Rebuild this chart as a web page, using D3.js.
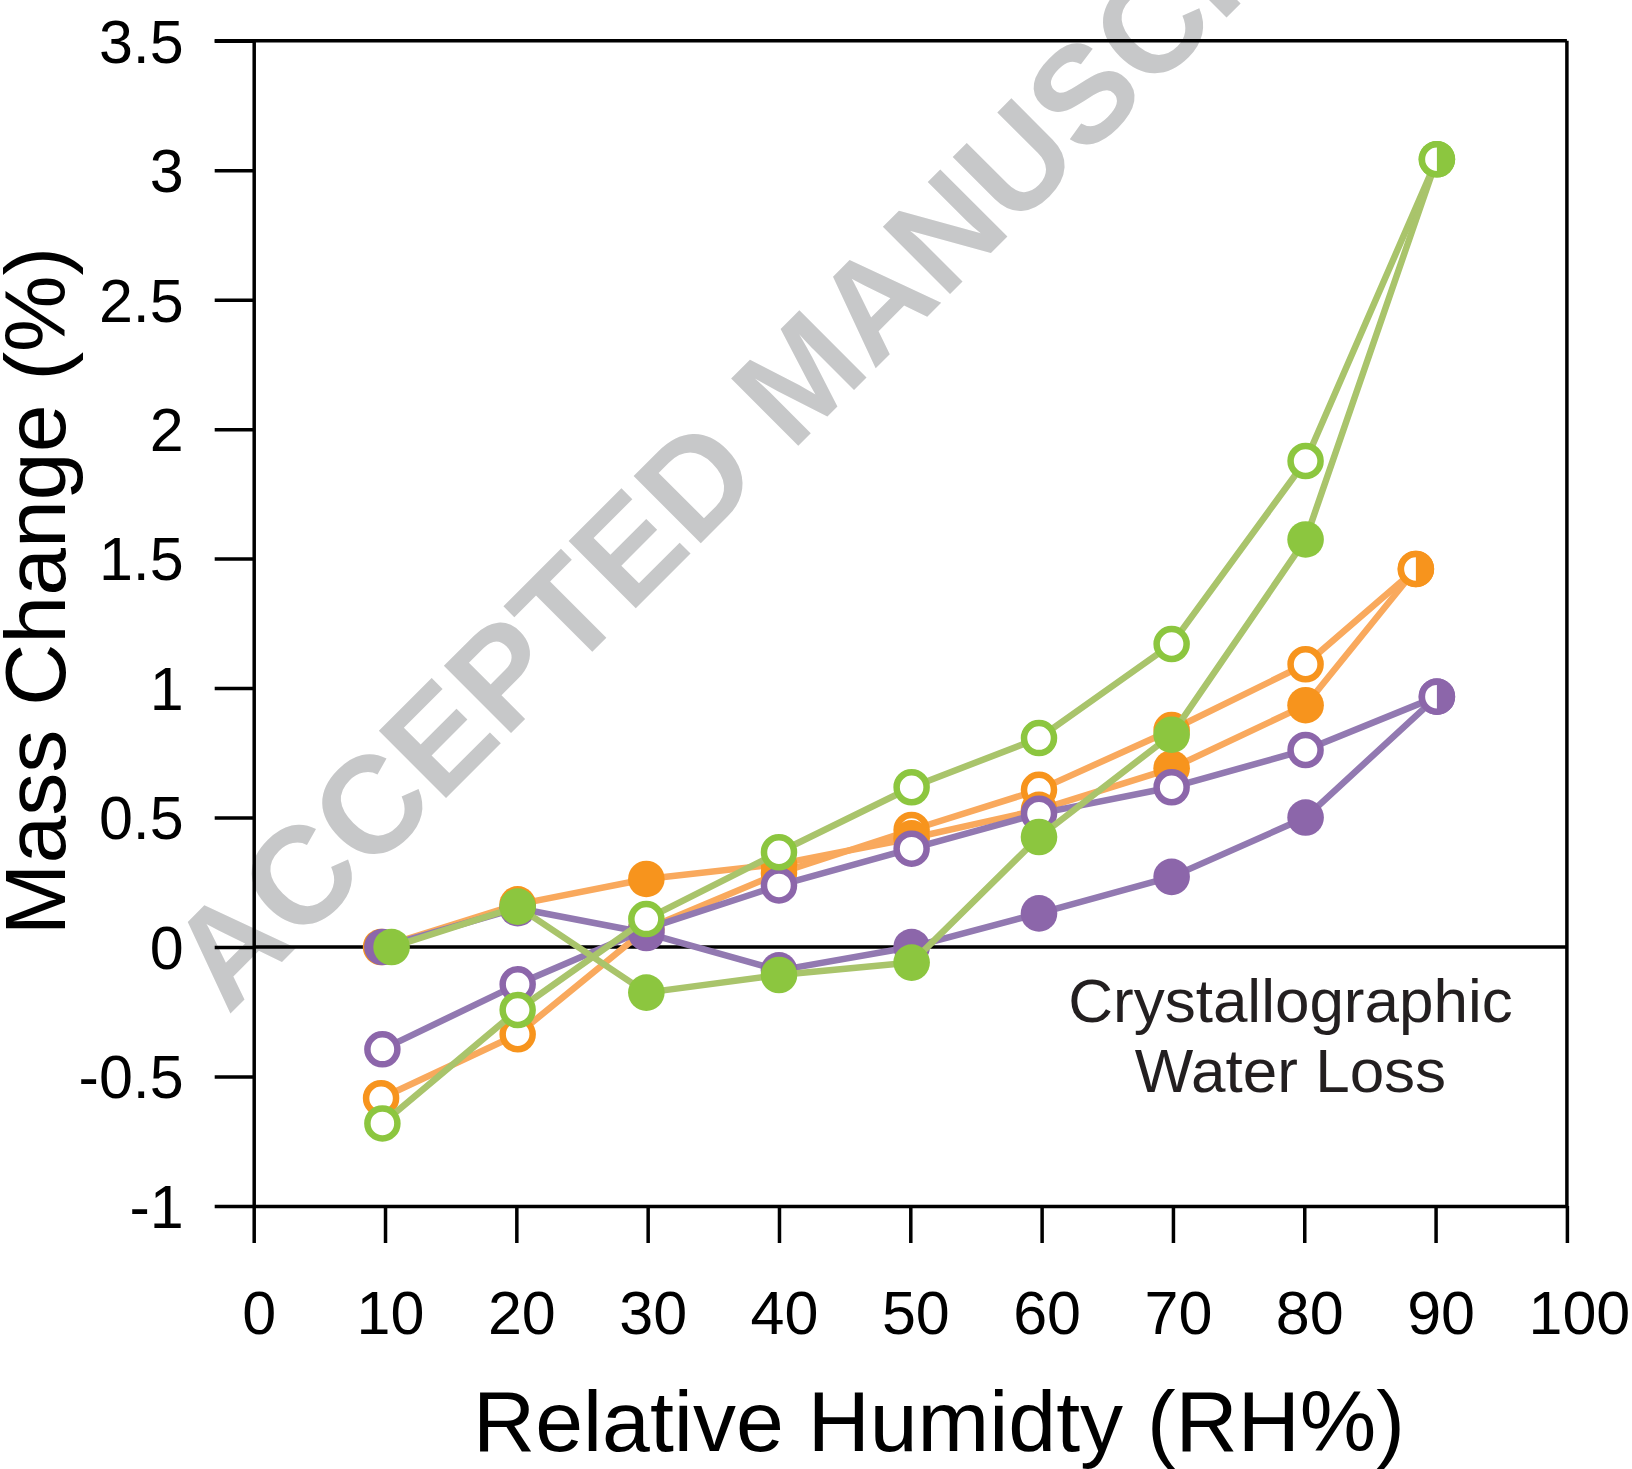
<!DOCTYPE html>
<html>
<head>
<meta charset="utf-8">
<script src="https://cdn.jsdelivr.net/npm/d3@7"></script>
<style>
  body { margin: 0; background: #fff; }
  svg { display: block; }
  text { font-family: "Liberation Sans", Arial, sans-serif; }
</style>
</head>
<body>
<svg id="chart" width="1632" height="1469"></svg>
<script>
// relative humidity steps
const rhSteps = [9.8, 20.1, 29.9, 40.0, 50.1, 59.8, 69.9, 80.1, 90.1];
const rhGreenUp = [10.5, 20.1, 29.9, 40.0, 50.1, 59.8, 69.9, 80.1, 90.1];
const rhOrange = [9.7, 20.1, 29.9, 40.0, 50.1, 59.8, 69.9, 80.1, 88.5];

// mass change (%), filled = up, open = down
const orangeUp = [0, 0.165, 0.263, 0.32, 0.42, 0.53, 0.69, 0.934, 1.46];
const orangeDown = [-0.584, -0.337, 0.07, 0.285, 0.452, 0.607, 0.838, 1.092, 1.46];
const purpleUp = [0, 0.15, 0.054, -0.09, 0, 0.13, 0.271, 0.5, 0.967];
const purpleDown = [-0.395, -0.144, 0.07, 0.238, 0.38, 0.515, 0.617, 0.761, 0.967];
const greenUp = [0, 0.156, -0.176, -0.108, -0.06, 0.425, 0.82, 1.574, 3.042];
const greenDown = [-0.681, -0.243, 0.108, 0.366, 0.617, 0.807, 1.17, 1.877, 3.042];

const xTicks = [0, 10, 20, 30, 40, 50, 60, 70, 80, 90, 100];
const yTicks = [-1, -0.5, 0, 0.5, 1, 1.5, 2, 2.5, 3, 3.5];
const yTickLabels = ["-1", "-0.5", "0", "0.5", "1", "1.5", "2", "2.5", "3", "3.5"];

const groups = [
  { marker: "#f7941d", line: "#f9a95d", x: rhOrange, xUp: rhOrange, up: orangeUp, down: orangeDown },
  { marker: "#8c66aa", line: "#9279b1", x: rhSteps, xUp: rhSteps, up: purpleUp, down: purpleDown },
  { marker: "#8cc63f", line: "#a9c46b", x: rhSteps, xUp: rhGreenUp, up: greenUp, down: greenDown }
];

const svg = d3.select("#chart");
const margin = { top: 40.7, right: 65.1, bottom: 263, left: 253.7 };
const width = 1632 - margin.left - margin.right;
const height = 1469 - margin.top - margin.bottom;

// watermark
svg.append("text")
  .attr("transform", "translate(228,1016) rotate(-45)")
  .attr("font-size", 138)
  .attr("font-weight", "bold")
  .attr("fill", "#c7c8c9")
  .text("ACCEPTED MANUSCRIPT");

const g = svg.append("g").attr("transform", `translate(${margin.left},${margin.top})`);

const x = d3.scaleLinear().domain([0, 100]).range([0, width]);
const y = d3.scaleLinear().domain([-1, 3.5]).range([height, 0]);

const xAxis = g.append("g")
  .attr("transform", `translate(0,${height})`)
  .call(d3.axisBottom(x).tickValues(xTicks).tickSize(37).tickPadding(48).tickSizeOuter(0));
const yAxis = g.append("g")
  .call(d3.axisLeft(y).tickValues(yTicks).tickFormat((d, i) => yTickLabels[i])
    .tickSize(39).tickPadding(31).tickSizeOuter(0));

[xAxis, yAxis].forEach(a => {
  a.select(".domain").attr("stroke", "#000").attr("stroke-width", 3.5);
  a.selectAll(".tick line").attr("stroke", "#000").attr("stroke-width", 3.5);
  a.selectAll(".tick text").attr("font-size", 61).attr("fill", "#000")
    .style("font-family", '"Liberation Sans", Arial, sans-serif');
});
xAxis.selectAll(".tick text").attr("dx", d => (d === 100 ? 12 : 5));
yAxis.selectAll(".tick text").attr("dy", "0.35em");

// top and right frame
g.append("line").attr("x1", -39).attr("x2", width).attr("y1", 0).attr("y2", 0)
  .attr("stroke", "#000").attr("stroke-width", 3.5);
g.append("line").attr("x1", width).attr("x2", width).attr("y1", 0).attr("y2", height)
  .attr("stroke", "#000").attr("stroke-width", 3.5);

// zero line
g.append("line").attr("x1", 0).attr("x2", width).attr("y1", y(0)).attr("y2", y(0))
  .attr("stroke", "#000").attr("stroke-width", 3.5);

const line = d3.line().x(d => x(d[0])).y(d => y(d[1]));
const halfArc = d3.arc().innerRadius(0).outerRadius(11.75).startAngle(Math.PI).endAngle(2 * Math.PI);

groups.forEach(s => {
  const upPts = s.up.map((v, i) => [s.xUp[i], v]);
  const downPts = s.down.map((v, i) => [s.x[i], v]);

  [downPts, upPts].forEach(pts => {
    g.append("path").datum(pts)
      .attr("fill", "none")
      .attr("stroke", s.line)
      .attr("stroke-width", 6.5)
      .attr("stroke-linejoin", "round")
      .attr("d", line);
  });

  g.selectAll(null).data(downPts).enter().append("circle")
    .attr("cx", d => x(d[0])).attr("cy", d => y(d[1]))
    .attr("r", 15)
    .attr("fill", "#fff")
    .attr("stroke", s.marker)
    .attr("stroke-width", 6.5);

  g.selectAll(null).data(upPts).enter().append("circle")
    .attr("cx", d => x(d[0])).attr("cy", d => y(d[1]))
    .attr("r", 18.3)
    .attr("fill", s.marker);

  // shared end point: half open, half filled
  const shared = upPts.filter(p => downPts.some(q => q[0] === p[0] && q[1] === p[1]));
  g.selectAll(null).data(shared).enter().append("path")
    .attr("transform", d => `translate(${x(d[0])},${y(d[1])})`)
    .attr("fill", "#fff")
    .attr("d", halfArc);
});

// annotation
const note = g.append("text")
  .attr("text-anchor", "middle")
  .attr("font-size", 62)
  .attr("fill", "#231f20");
note.append("tspan").attr("x", 1290.5 - margin.left).attr("y", y(-0.288)).text("Crystallographic");
note.append("tspan").attr("x", 1290.5 - margin.left).attr("y", y(-0.558)).text("Water Loss");

// axis titles
svg.append("text")
  .attr("x", 939).attr("y", 1451)
  .attr("text-anchor", "middle")
  .attr("font-size", 86)
  .attr("fill", "#000")
  .text("Relative Humidty (RH%)");

svg.append("text")
  .attr("transform", "translate(65,591) rotate(-90)")
  .attr("text-anchor", "middle")
  .attr("font-size", 86)
  .attr("fill", "#000")
  .text("Mass Change (%)");
</script>
</body>
</html>
